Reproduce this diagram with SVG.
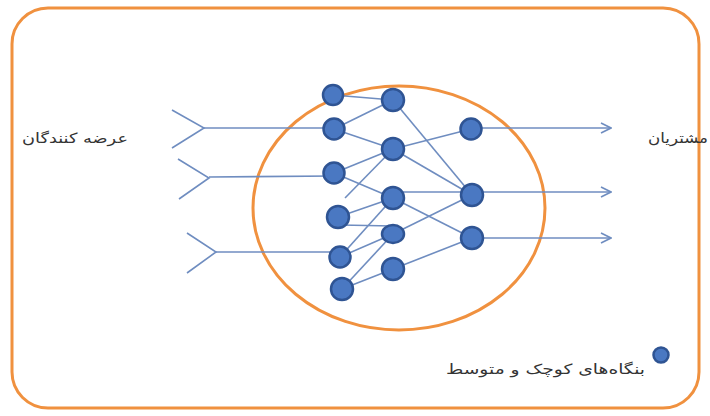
<svg xmlns="http://www.w3.org/2000/svg" width="710" height="416" viewBox="0 0 710 416">
<style>
.fr{fill:none;stroke:#F0913F;stroke-width:3}
.ln{stroke:#6F8DC0;stroke-width:1.6;fill:none}
.nd{fill:#4A78C2;stroke:#2F5493;stroke-width:2.5}
.tx{font-family:"DejaVu Sans",sans-serif;font-size:14px;fill:#333}
</style>
<defs>
<marker id="ar" viewBox="0 0 12 12" refX="11" refY="6" markerWidth="12" markerHeight="12" markerUnits="userSpaceOnUse" orient="auto">
<path d="M1,1 L11,6 L1,11" fill="none" stroke="#6F8DC0" stroke-width="1.6"/>
</marker>
</defs>
<rect id="frame" class="fr" x="12" y="8" width="687" height="400" rx="36"/>
<ellipse id="market" class="fr" cx="399" cy="208" rx="146" ry="122"/>
<g id="connectors" class="ln">
<polyline points="172,110 204,128 172,148"/>
<polyline points="178,159 209,178 179,199"/>
<polyline points="187,233 216,252 187,273"/>
<line x1="204" y1="128" x2="334" y2="128"/>
<line x1="209" y1="177" x2="334" y2="176"/>
<line x1="216" y1="252" x2="340" y2="252"/>
<line x1="333" y1="95" x2="393" y2="100"/>
<line x1="334" y1="129" x2="393" y2="100"/>
<line x1="334" y1="129" x2="393" y2="149"/>
<line x1="393" y1="100" x2="472" y2="195"/>
<line x1="393" y1="149" x2="471" y2="129"/>
<line x1="393" y1="149" x2="472" y2="195"/>
<line x1="334" y1="173" x2="393" y2="149"/>
<line x1="334" y1="173" x2="393" y2="198"/>
<line x1="393" y1="198" x2="472" y2="238"/>
<line x1="345" y1="198" x2="393" y2="149"/>
<line x1="338" y1="217" x2="393" y2="198"/>
<line x1="340" y1="225" x2="393" y2="226"/>
<line x1="393" y1="192" x2="472" y2="192"/>
<line x1="393" y1="234" x2="472" y2="195"/>
<line x1="340" y1="257" x2="393" y2="198"/>
<line x1="340" y1="257" x2="393" y2="234"/>
<line x1="342" y1="289" x2="393" y2="234"/>
<line x1="342" y1="289" x2="393" y2="269"/>
<line x1="393" y1="269" x2="472" y2="238"/>
<line x1="471" y1="128" x2="611" y2="128" marker-end="url(#ar)"/>
<line x1="472" y1="192" x2="611" y2="192" marker-end="url(#ar)"/>
<line x1="472" y1="238" x2="611" y2="238" marker-end="url(#ar)"/>
</g>
<g id="n1"><circle class="nd" cx="333" cy="95" r="10"/></g>
<g id="n2"><circle class="nd" cx="334" cy="129" r="10.5"/></g>
<g id="n3"><circle class="nd" cx="334" cy="173" r="10.5"/></g>
<g id="n4"><circle class="nd" cx="338" cy="217" r="11"/></g>
<g id="n5"><circle class="nd" cx="340" cy="257" r="10.5"/></g>
<g id="n6"><circle class="nd" cx="342" cy="289" r="11"/></g>
<g id="m1"><circle class="nd" cx="393" cy="100" r="11"/></g>
<g id="m2"><circle class="nd" cx="393" cy="149" r="11"/></g>
<g id="m3"><circle class="nd" cx="393" cy="198" r="11"/></g>
<g id="m4"><ellipse class="nd" cx="393" cy="234" rx="11" ry="9"/></g>
<g id="m5"><circle class="nd" cx="393" cy="269" r="11"/></g>
<g id="k1"><circle class="nd" cx="471" cy="129" r="10.5"/></g>
<g id="k2"><circle class="nd" cx="472" cy="195" r="11"/></g>
<g id="k3"><circle class="nd" cx="472" cy="238" r="11"/></g>
<g id="suppliers"><text class="tx" x="22" y="143" textLength="106" lengthAdjust="spacingAndGlyphs">عرضه کنندگان</text></g>
<g id="customers"><text class="tx" x="648" y="143" textLength="60" lengthAdjust="spacingAndGlyphs">مشتریان</text></g>
<g id="legend">
<circle class="nd" cx="661" cy="355" r="7.5"/>
<text class="tx" x="446" y="374" textLength="199" lengthAdjust="spacingAndGlyphs">بنگاه‌های کوچک و متوسط</text>
</g>
</svg>
